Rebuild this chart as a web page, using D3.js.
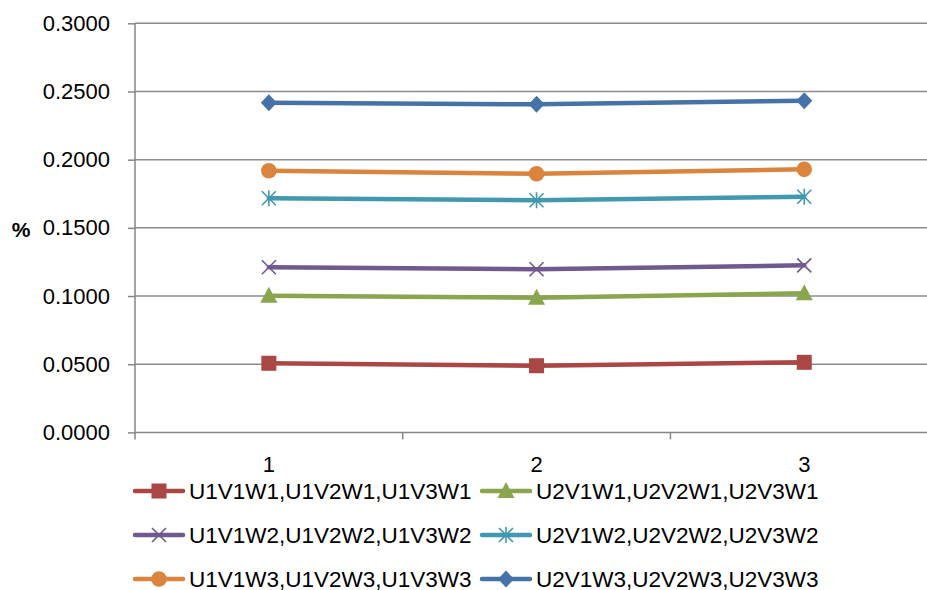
<!DOCTYPE html>
<html>
<head>
<meta charset="utf-8">
<script src="https://cdn.jsdelivr.net/npm/d3@7"></script>
<style>
  html, body { margin: 0; padding: 0; background: #fff; }
  svg { display: block; font-family: "Liberation Sans", Arial, sans-serif; }
</style>
</head>
<body>
<svg id="chart" width="927" height="590"></svg>
<script>
// Categories on the x axis
const categories = ["1", "2", "3"];

// Series names (legend labels)
const seriesNames = [
  "U1V1W1,U1V2W1,U1V3W1",
  "U2V1W1,U2V2W1,U2V3W1",
  "U1V1W2,U1V2W2,U1V3W2",
  "U2V1W2,U2V2W2,U2V3W2",
  "U1V1W3,U1V2W3,U1V3W3",
  "U2V1W3,U2V2W3,U2V3W3"
];

// Series values, one array per series
const s1 = [0.0507, 0.0489, 0.0514];
const s2 = [0.1002, 0.0988, 0.1020];
const s3 = [0.1211, 0.1196, 0.1225];
const s4 = [0.1717, 0.1702, 0.1728];
const s5 = [0.1919, 0.1897, 0.1929];
const s6 = [0.2418, 0.2406, 0.2432];
const seriesValues = [s1, s2, s3, s4, s5, s6];

// Y axis ticks
const yTicks = [0, 0.05, 0.10, 0.15, 0.20, 0.25, 0.30];
const yLabel = "%";

const colors = ["#AA4643", "#89A54E", "#71588F", "#4198AF", "#DB843D", "#4572A7"];
const markers = ["square", "triangle", "cross", "star", "circle", "diamond"];

const svg = d3.select("#chart");

const plotLeft = 135, plotTop = 23.3, plotBottom = 432.4, bandW = 267.7;
const x = d3.scaleBand().domain(categories).range([plotLeft, plotLeft + bandW * categories.length]).padding(0);
const y = d3.scaleLinear().domain([0, 0.3]).range([plotBottom, plotTop]);

// Horizontal gridlines
svg.append("g")
  .selectAll("line")
  .data(yTicks.filter(d => d > 0))
  .join("line")
  .attr("x1", plotLeft).attr("x2", plotLeft + bandW * 3)
  .attr("y1", d => y(d)).attr("y2", d => y(d))
  .attr("stroke", "#8c8c8c").attr("stroke-width", 1.5);

// Y axis
const yAxis = d3.axisLeft(y).tickValues(yTicks).tickFormat(d3.format(".4f")).tickSize(7).tickPadding(18);
const gy = svg.append("g").attr("transform", `translate(${plotLeft},0)`).call(yAxis);
gy.select(".domain").attr("stroke", "#868686").attr("stroke-width", 1.5).attr("d", `M0,${plotTop}V${plotBottom}`);
gy.selectAll(".tick line").attr("stroke", "#868686").attr("stroke-width", 1.5);
gy.selectAll(".tick text").attr("font-size", 22).attr("fill", "#000")
  .attr("font-family", "'Liberation Sans', Arial, sans-serif");

// X axis: boundary ticks between categories
const xg = svg.append("g");
xg.append("line")
  .attr("x1", plotLeft).attr("x2", plotLeft + bandW * 3)
  .attr("y1", plotBottom).attr("y2", plotBottom)
  .attr("stroke", "#868686").attr("stroke-width", 1.5);
xg.selectAll(".bt")
  .data(d3.range(categories.length + 1))
  .join("line")
  .attr("class", "bt")
  .attr("x1", i => plotLeft + bandW * i).attr("x2", i => plotLeft + bandW * i)
  .attr("y1", plotBottom).attr("y2", plotBottom + 7)
  .attr("stroke", "#868686").attr("stroke-width", 1.5);
xg.selectAll("text")
  .data(categories)
  .join("text")
  .attr("x", d => x(d) + x.bandwidth() / 2)
  .attr("y", 472)
  .attr("text-anchor", "middle")
  .attr("font-size", 22)
  .text(d => d);

// Axis title
svg.append("text")
  .attr("x", 21).attr("y", 237)
  .attr("text-anchor", "middle")
  .attr("font-size", 21).attr("font-weight", "bold")
  .text(yLabel);

// Marker drawing
function drawMarker(g, type, color) {
  switch (type) {
    case "square":
      g.append("rect").attr("x", -7.5).attr("y", -7.5).attr("width", 15).attr("height", 15).attr("fill", color);
      break;
    case "triangle":
      g.append("path").attr("d", "M0,-9L8.5,7L-8.5,7Z").attr("fill", color);
      break;
    case "cross":
      g.append("path").attr("d", "M-7,-7L7,7M-7,7L7,-7").attr("stroke", color).attr("stroke-width", 1.6).attr("fill", "none");
      break;
    case "star":
      g.append("path").attr("d", "M-7,-7L7,7M-7,7L7,-7M0,-8V8").attr("stroke", color).attr("stroke-width", 1.6).attr("fill", "none");
      break;
    case "circle":
      g.append("circle").attr("r", 7.8).attr("fill", color);
      break;
    case "diamond":
      g.append("path").attr("d", "M0,-8.5L8,0L0,8.5L-8,0Z").attr("fill", color);
      break;
  }
}

// Lines and markers
const line = d3.line().x((d, i) => x(categories[i]) + x.bandwidth() / 2).y(d => y(d));
seriesValues.forEach((vals, si) => {
  const g = svg.append("g");
  g.append("path").datum(vals).attr("d", line)
    .attr("fill", "none").attr("stroke", colors[si]).attr("stroke-width", 4.5)
    .attr("stroke-linejoin", "round").attr("stroke-linecap", "round");
  vals.forEach((v, i) => {
    const m = g.append("g").attr("transform", `translate(${x(categories[i]) + x.bandwidth() / 2},${y(v)})`);
    drawMarker(m, markers[si], colors[si]);
  });
});

// Legend: two columns, three rows
const legendCols = [133, 480];
const legendRows = [491, 535, 579];
seriesNames.forEach((name, si) => {
  const col = si % 2, row = Math.floor(si / 2);
  const g = svg.append("g").attr("transform", `translate(${legendCols[col]},${legendRows[row]})`);
  g.append("line").attr("x1", 2).attr("x2", 50).attr("y1", 0).attr("y2", 0)
    .attr("stroke", colors[si]).attr("stroke-width", 4.5).attr("stroke-linecap", "round");
  const m = g.append("g").attr("transform", "translate(26,0)");
  drawMarker(m, markers[si], colors[si]);
  g.append("text").attr("x", 56).attr("y", 7.5).attr("font-size", 22.5).text(name);
});
</script>
</body>
</html>
